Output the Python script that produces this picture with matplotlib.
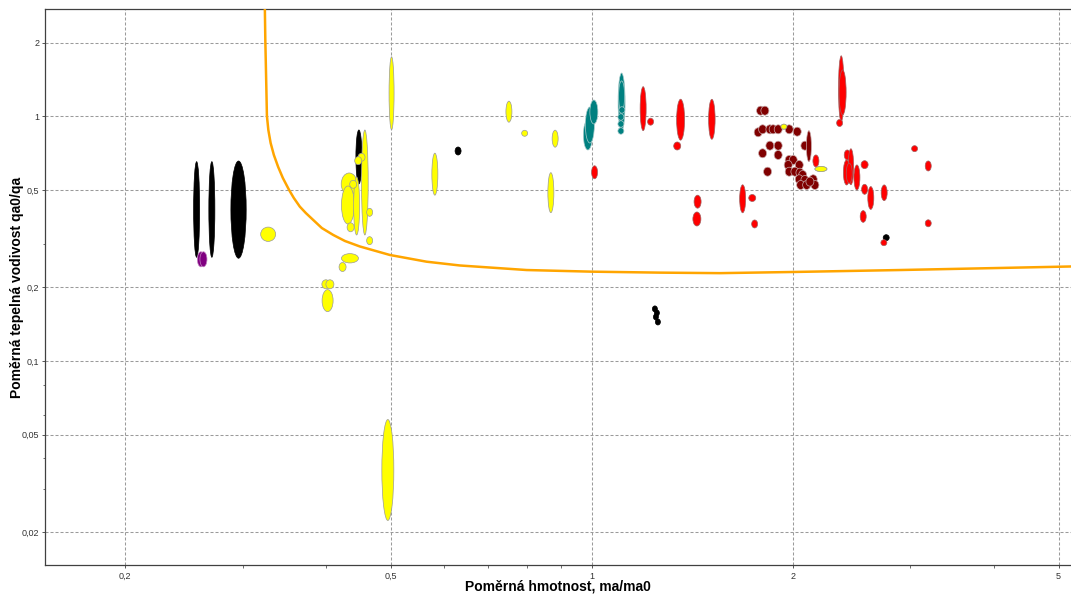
import numpy as np
import matplotlib
matplotlib.use('Agg')
import matplotlib.pyplot as plt
from matplotlib.patches import Ellipse
from matplotlib.ticker import FixedLocator, FixedFormatter, NullFormatter

plt.rcParams['font.family'] = ['Liberation Sans', 'DejaVu Sans']

# each point: mass ratio x, conductivity ratio y and spread factors
# (the ellipse spans x/fx .. x*fx and y/fy .. y*fy)
black_x = [0.2559, 0.2697, 0.2957, 0.4478, 0.6304, 1.2427, 1.2513, 1.2470, 1.2556, 2.759]
black_y = [0.416, 0.416, 0.4154, 0.682, 0.7213, 0.1632, 0.1571, 0.1513, 0.1443, 0.319]
black_fx = [1.0104, 1.0104, 1.0267, 1.0104, 1.0104, 1.0087, 1.0087, 1.0087, 1.0087, 1.0104]
black_fy = [1.568, 1.568, 1.580, 1.289, 1.0383, 1.0286, 1.0286, 1.0286, 1.0286, 1.0286]

purple_x = [0.2597, 0.2620]
purple_y = [0.2603, 0.2603]
purple_fx = [1.0122, 1.0122]
purple_fy = [1.0732, 1.0732]

yellow_x = [0.3275, 0.5012, 0.4571, 0.4331, 0.4312, 0.4443, 0.4519, 0.4467, 0.4391,
            0.4352, 0.4647, 0.4647, 0.4342, 0.4233, 0.3996, 0.4052, 0.4020, 0.4948,
            0.5819, 0.7512, 0.7931, 0.8810, 0.8681, 1.9390, 2.2029]
yellow_y = [0.3295, 1.2416, 0.5363, 0.5288, 0.4339, 0.4299, 0.6800, 0.6585, 0.5273,
            0.3518, 0.4051, 0.3102, 0.2628, 0.2421, 0.2058, 0.2058, 0.1764, 0.03584,
            0.5800, 1.0443, 0.8521, 0.8100, 0.4873, 0.9068, 0.6089]
yellow_fx = [1.0262, 1.0087, 1.0116, 1.028, 1.0227, 1.0104, 1.0122, 1.0122, 1.0122,
             1.0122, 1.0104, 1.0104, 1.0298, 1.0122, 1.0139, 1.0139, 1.0192, 1.0209,
             1.0104, 1.0104, 1.0104, 1.0104, 1.0104, 1.0104, 1.0209]
yellow_fy = [1.0696, 1.410, 1.639, 1.109, 1.1958, 1.3137, 1.0383, 1.0383, 1.0383,
             1.0432, 1.0383, 1.0383, 1.0447, 1.0432, 1.0432, 1.0432, 1.109, 1.608,
             1.2186, 1.104, 1.0286, 1.0833, 1.207, 1.0238, 1.0238]

teal_x = [0.9863, 0.9931, 1.0069, 1.1079, 1.1079, 1.1052, 1.1052, 1.1052, 1.1090]
teal_y = [0.8388, 0.9213, 1.0413, 1.1439, 1.2106, 0.8708, 0.9301, 0.9934, 1.0610]
teal_fx = [1.0157, 1.0157, 1.0139, 1.0122, 1.0104, 1.0104, 1.0104, 1.0104, 1.0104]
teal_fy = [1.152, 1.1846, 1.1195, 1.3137, 1.152, 1.031, 1.031, 1.031, 1.031]

red_x = [1.0093, 1.1934, 1.2244, 1.3579, 1.3421, 1.5124, 1.4398, 1.4363, 1.6818,
         1.7384, 1.7528, 2.1652, 2.3627, 2.3741, 2.3496, 2.4122, 2.4429, 2.4072,
         2.4289, 2.4940, 2.5611, 2.5611, 2.6163, 2.7400, 2.5487, 3.0428, 3.1894,
         3.1894, 2.7370]
red_y = [0.5904, 1.0742, 0.9504, 0.9685, 0.7561, 0.9721, 0.4477, 0.3804, 0.4600,
         0.4635, 0.3630, 0.6568, 1.2952, 1.2512, 0.9389, 0.6948, 0.6218, 0.5893,
         0.5850, 0.5623, 0.6342, 0.5030, 0.4635, 0.4868, 0.3895, 0.7373, 0.6265,
         0.3653, 0.3043]
red_fx = [1.0104, 1.0104, 1.0104, 1.0139, 1.0122, 1.0113, 1.0122, 1.0139, 1.0104,
          1.0122, 1.0104, 1.0104, 1.0095, 1.0122, 1.0104, 1.0104, 1.0095, 1.0113,
          1.0104, 1.0104, 1.0122, 1.0104, 1.0104, 1.0104, 1.0104, 1.0104, 1.0104,
          1.0104, 1.0104]
red_fy = [1.063, 1.230, 1.0335, 1.2125, 1.0383, 1.207, 1.063, 1.0681, 1.1407,
          1.0335, 1.0383, 1.0581, 1.364, 1.2357, 1.0335, 1.0482, 1.1846, 1.125,
          1.099, 1.125, 1.0383, 1.0482, 1.113, 1.0767, 1.0566, 1.0286, 1.0482,
          1.0335, 1.0286]

maroon_x = [1.7891, 1.8159, 1.7744, 1.8016, 1.8474, 1.8684, 1.9011, 1.9747, 2.0302,
            1.8474, 1.9011, 1.8016, 1.9011, 1.8327, 2.0845, 2.1135, 1.9747, 2.0023,
            1.9679, 2.0443, 1.9747, 2.0139, 2.0491, 2.0685, 2.0443, 2.0845, 2.0543,
            2.0971, 2.1450, 2.1577, 2.1209]
maroon_y = [1.0541, 1.0541, 0.8602, 0.8846, 0.8846, 0.8846, 0.8846, 0.8846, 0.8652,
            0.7584, 0.7584, 0.7060, 0.6948, 0.5937, 0.7584, 0.7548, 0.6630, 0.6630,
            0.6324, 0.6324, 0.5937, 0.5937, 0.5882, 0.5756, 0.5528, 0.5491, 0.5238,
            0.5238, 0.5528, 0.5238, 0.5404]
maroon_fx = [1.0139] * 15 + [1.0087] + [1.0139] * 15
maroon_fy = [1.0432] * 15 + [1.157] + [1.0432] * 15

# limit curve
curve_x = [0.3236, 0.3238, 0.3243, 0.3255, 0.3261, 0.3277, 0.3303, 0.3340, 0.3390,
           0.3445, 0.3520, 0.3578, 0.3653, 0.3729, 0.3825, 0.3941, 0.4099, 0.4267,
           0.4493, 0.4983, 0.5655, 0.6343, 0.7985, 1.0, 1.264, 1.5545, 2.0, 2.8925,
           4.0833, 5.218]
curve_y = [3.0, 2.745, 2.05, 1.2805, 1.003, 0.8790, 0.7777, 0.6948, 0.6206,
           0.5597, 0.4998, 0.4635, 0.4272, 0.4024, 0.3770, 0.3493, 0.3273, 0.3093,
           0.2937, 0.2711, 0.2545, 0.2456, 0.2353, 0.2317, 0.2296, 0.2285, 0.2310,
           0.2353, 0.2399, 0.2433]

x_ticks = [0.2, 0.5, 1, 2, 5]
x_labels = ['0,2', '0,5', '1', '2', '5']
x_minor = [0.3, 0.4, 0.6, 0.7, 0.8, 0.9, 3, 4]
y_ticks = [0.02, 0.05, 0.1, 0.2, 0.5, 1, 2]
y_labels = ['0,02', '0,05', '0,1', '0,2', '0,5', '1', '2']
y_minor = [0.03, 0.04, 0.06, 0.08, 0.3]


def draw_group(ax, xs, ys, fx, fy, face, edge, z):
    # ellipses are built in log10 space, then mapped through the axes limits
    tr = ax.transLimits + ax.transAxes
    for x, y, a, b in zip(xs, ys, fx, fy):
        e = Ellipse((np.log10(x), np.log10(y)), 2 * np.log10(a), 2 * np.log10(b),
                    transform=tr, facecolor=face, edgecolor=edge, lw=0.5, zorder=z)
        ax.add_patch(e)


fig = plt.figure(figsize=(10.71, 5.98), dpi=100)
ax = fig.add_axes([0.042, 0.0552, 0.958, 0.9298])
ax.set_xscale('log')
ax.set_yscale('log')
ax.set_xlim(0.1517, 5.218)
ax.set_ylim(0.01466, 2.745)

draw_group(ax, black_x, black_y, black_fx, black_fy, 'black', 'black', 3)
draw_group(ax, purple_x, purple_y, purple_fx, purple_fy, '#800080', '#c080c0', 3)
draw_group(ax, yellow_x, yellow_y, yellow_fx, yellow_fy, '#ffff00', '#9a9a9a', 4)
draw_group(ax, teal_x, teal_y, teal_fx, teal_fy, '#008080', '#a8cccc', 4)
draw_group(ax, red_x, red_y, red_fx, red_fy, '#ff0000', '#a06060', 4)
draw_group(ax, maroon_x, maroon_y, maroon_fx, maroon_fy, '#800000', '#c8a8a8', 5)
# yellow points lying inside the maroon cluster
draw_group(ax, yellow_x[-2:], yellow_y[-2:], yellow_fx[-2:], yellow_fy[-2:],
           '#ffff00', '#9a9a9a', 6)

ax.plot(curve_x, curve_y, color='#ffa500', lw=1.8, zorder=7)

ax.xaxis.set_major_locator(FixedLocator(x_ticks))
ax.xaxis.set_major_formatter(FixedFormatter(x_labels))
ax.xaxis.set_minor_locator(FixedLocator(x_minor))
ax.xaxis.set_minor_formatter(NullFormatter())
ax.yaxis.set_major_locator(FixedLocator(y_ticks))
ax.yaxis.set_major_formatter(FixedFormatter(y_labels))
ax.yaxis.set_minor_locator(FixedLocator(y_minor))
ax.yaxis.set_minor_formatter(NullFormatter())

ax.tick_params(which='major', length=2.5, width=0.7, color='#555555',
               labelsize=6.5, labelcolor='#333333')
ax.tick_params(which='minor', length=1.8, width=0.6, color='#555555')
ax.tick_params(axis='x', pad=2.5)
ax.tick_params(axis='y', pad=1.5)

ax.grid(True, which='major', color='#9a9a9a', lw=0.75, linestyle=(0, (2.9, 1.9)))
ax.set_axisbelow(True)

for side in ['left', 'bottom', 'top']:
    ax.spines[side].set_color('#404040')
    ax.spines[side].set_linewidth(0.9)
ax.spines['right'].set_visible(False)

ax.set_xlabel('Poměrná hmotnost, ma/ma0', fontsize=10, fontweight='bold')
ax.set_ylabel('Poměrná tepelná vodivost qa0/qa', fontsize=10, fontweight='bold')
ax.xaxis.set_label_coords(0.5, -0.026)
ax.yaxis.set_label_coords(-0.0205, 0.5)

fig.savefig('out.png', dpi=100)
